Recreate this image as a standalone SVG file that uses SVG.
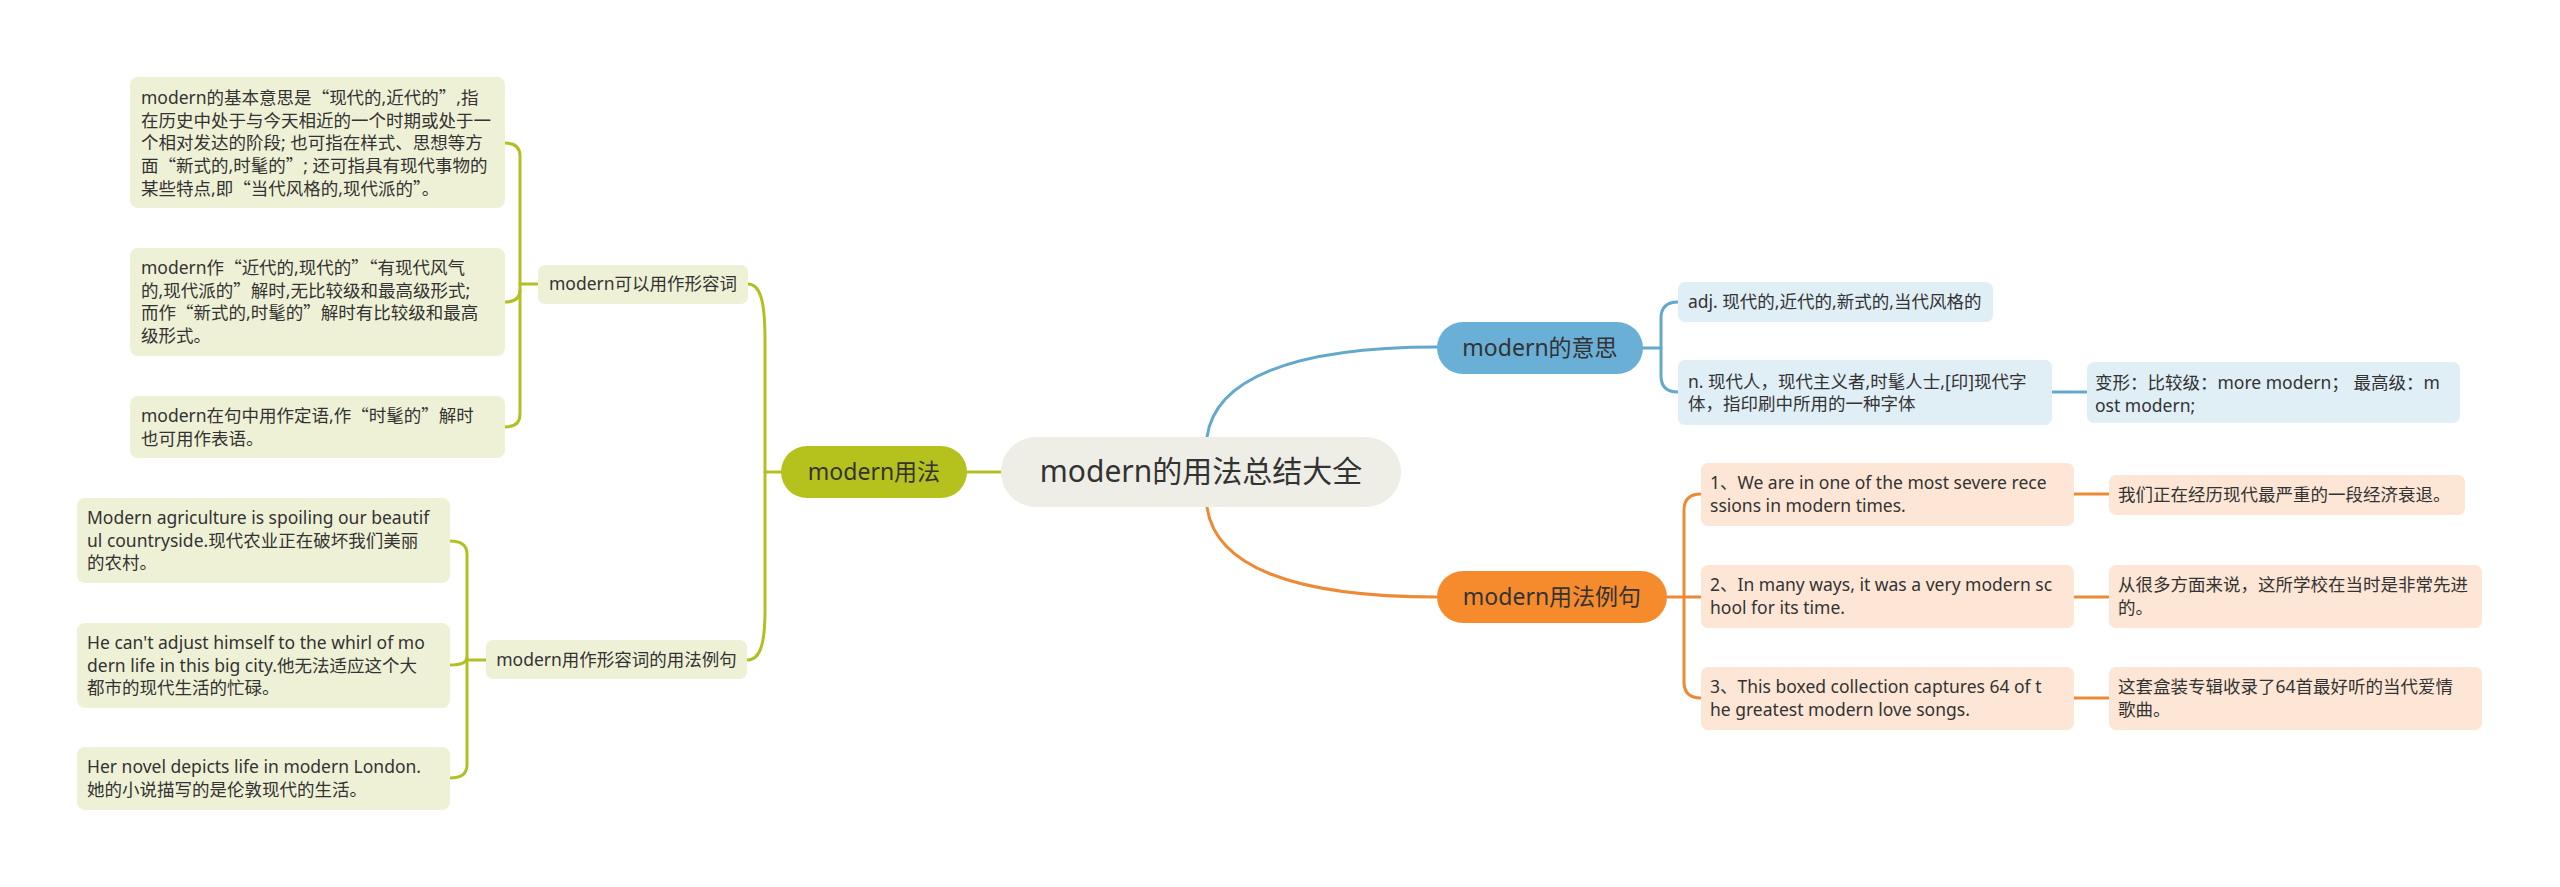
<svg xmlns="http://www.w3.org/2000/svg" width="2560" height="887" viewBox="0 0 2560 887">
<style>
text{font-family:"Noto Sans","Noto Sans CJK SC",sans-serif;fill:#333;}
.q{font-family:"Noto Sans CJK SC",sans-serif;}
.s{font-size:17.5px;}
.m{font-size:23px;text-anchor:middle;}
.c{font-size:30px;text-anchor:middle;}
.n2{font-size:17.5px;text-anchor:middle;}
.ol{fill:none;stroke:#b2c024;stroke-width:3;stroke-linecap:round;}
.bl{fill:none;stroke:#63a8cd;stroke-width:3;stroke-linecap:round;}
.or{fill:none;stroke:#ec8a35;stroke-width:3;stroke-linecap:round;}
.lo{fill:#eff1d6;}
.lb{fill:#e0eef6;}
.lr{fill:#fde6d5;}
</style>
<rect width="2560" height="887" fill="#ffffff"/>
<g id="connectors">
<path class="bl" d="M1207,437 C1215,380 1290,347 1437,347"/>
<path class="or" d="M1207,507 C1215,565 1290,597 1437,597"/>
<path class="ol" d="M967,472 H1001"/>
<path class="ol" d="M781,472 H765"/>
<path class="ol" d="M748,284 C760,284 765,300 765,340 V610 C765,645 760,660 747,660"/>
<path class="ol" d="M538,284 H520"/>
<path class="ol" d="M505,143 Q520,143 520,156 V414 Q520,427 505,427"/>
<path class="ol" d="M505,302 Q520,302 520,290"/>
<path class="ol" d="M486,660 H467"/>
<path class="ol" d="M450,541 Q467,541 467,554 V765 Q467,778 450,778"/>
<path class="ol" d="M450,665 Q467,665 467,657"/>
<path class="bl" d="M1643,348 H1661"/>
<path class="bl" d="M1678,302 Q1661,302 1661,318 V376 Q1661,392 1678,392"/>
<path class="bl" d="M2052,392 H2087"/>
<path class="or" d="M1667,597 H1701"/>
<path class="or" d="M1701,494 Q1684,494 1684,510 V682 Q1684,698 1701,698"/>
<path class="or" d="M2074,494 H2109"/>
<path class="or" d="M2074,597 H2109"/>
<path class="or" d="M2074,698 H2109"/>
</g>
<g id="central">
<rect x="1001" y="437" width="400" height="70" rx="35" fill="#eeeee6"/>
<text class="c" x="1201" y="482">modern的用法总结大全</text>
</g>
<g id="usage">
<rect x="781" y="446" width="186" height="52" rx="26" fill="#b5c21d"/>
<text class="m" x="874" y="480">modern用法</text>
</g>
<g id="adj-node">
<rect class="lo" x="538" y="265" width="210" height="39" rx="7"/>
<text class="n2" x="643" y="290">modern可以用作形容词</text>
</g>
<g id="leaf-l1">
<rect class="lo" x="130" y="77" width="375" height="131" rx="8"/>
<text class="s"><tspan x="141" y="104">modern的基本意思是<tspan class="q">“</tspan>现代的,近代的<tspan class="q">”</tspan>,指</tspan><tspan x="141" y="126.7">在历史中处于与今天相近的一个时期或处于一</tspan><tspan x="141" y="149.4">个相对发达的阶段; 也可指在样式、思想等方</tspan><tspan x="141" y="172.1">面<tspan class="q">“</tspan>新式的,时髦的<tspan class="q">”</tspan>; 还可指具有现代事物的</tspan><tspan x="141" y="194.8">某些特点,即<tspan class="q">“</tspan>当代风格的,现代派的<tspan class="q">”</tspan>。</tspan></text>
</g>
<g id="leaf-l2">
<rect class="lo" x="130" y="248" width="375" height="108" rx="8"/>
<text class="s"><tspan x="141" y="274">modern作<tspan class="q">“</tspan>近代的,现代的<tspan class="q">”“</tspan>有现代风气</tspan><tspan x="141" y="296.7">的,现代派的<tspan class="q">”</tspan>解时,无比较级和最高级形式;</tspan><tspan x="141" y="319.4">而作<tspan class="q">“</tspan>新式的,时髦的<tspan class="q">”</tspan>解时有比较级和最高</tspan><tspan x="141" y="342.1">级形式。</tspan></text>
</g>
<g id="leaf-l3">
<rect class="lo" x="130" y="396" width="375" height="62" rx="8"/>
<text class="s"><tspan x="141" y="422">modern在句中用作定语,作<tspan class="q">“</tspan>时髦的<tspan class="q">”</tspan>解时</tspan><tspan x="141" y="444.7">也可用作表语。</tspan></text>
</g>
<g id="example-node">
<rect class="lo" x="486" y="640" width="261" height="39" rx="7"/>
<text class="n2" x="616.5" y="666">modern用作形容词的用法例句</text>
</g>
<g id="leaf-e1">
<rect class="lo" x="77" y="498" width="373" height="85" rx="8"/>
<text class="s"><tspan x="87" y="524">Modern agriculture is spoiling our beautif</tspan><tspan x="87" y="546.7">ul countryside.现代农业正在破坏我们美丽</tspan><tspan x="87" y="569.4">的农村。</tspan></text>
</g>
<g id="leaf-e2">
<rect class="lo" x="77" y="623" width="373" height="85" rx="8"/>
<text class="s"><tspan x="87" y="649">He can't adjust himself to the whirl of mo</tspan><tspan x="87" y="671.7">dern life in this big city.他无法适应这个大</tspan><tspan x="87" y="694.4">都市的现代生活的忙碌。</tspan></text>
</g>
<g id="leaf-e3">
<rect class="lo" x="77" y="747" width="373" height="63" rx="8"/>
<text class="s"><tspan x="87" y="773">Her novel depicts life in modern London.</tspan><tspan x="87" y="795.7">她的小说描写的是伦敦现代的生活。</tspan></text>
</g>
<g id="meaning">
<rect x="1437" y="322" width="206" height="52" rx="26" fill="#6aafd6"/>
<text class="m" x="1540" y="356">modern的意思</text>
</g>
<g id="meaning-adj">
<rect class="lb" x="1678" y="282" width="315" height="40" rx="7"/>
<text class="s" x="1688" y="308">adj. 现代的,近代的,新式的,当代风格的</text>
</g>
<g id="meaning-n">
<rect class="lb" x="1678" y="360" width="374" height="65" rx="7"/>
<text class="s"><tspan x="1688" y="387.5">n. 现代人，现代主义者,时髦人士,[印]现代字</tspan><tspan x="1688" y="410.2">体，指印刷中所用的一种字体</tspan></text>
</g>
<g id="meaning-forms">
<rect class="lb" x="2087" y="362" width="373" height="61" rx="7"/>
<text class="s"><tspan x="2095" y="389">变形：比较级：more modern； 最高级：m</tspan><tspan x="2095" y="411.7">ost modern;</tspan></text>
</g>
<g id="sentences">
<rect x="1437" y="571" width="230" height="52" rx="26" fill="#f68b2e"/>
<text class="m" x="1552" y="605">modern用法例句</text>
</g>
<g id="s1">
<rect class="lr" x="1701" y="463" width="373" height="63" rx="7"/>
<text class="s"><tspan x="1710" y="489">1、We are in one of the most severe rece</tspan><tspan x="1710" y="511.7">ssions in modern times.</tspan></text>
</g>
<g id="t1">
<rect class="lr" x="2109" y="475" width="356" height="40" rx="7"/>
<text class="s" x="2118" y="501">我们正在经历现代最严重的一段经济衰退。</text>
</g>
<g id="s2">
<rect class="lr" x="1701" y="565" width="373" height="63" rx="7"/>
<text class="s"><tspan x="1710" y="591">2、In many ways, it was a very modern sc</tspan><tspan x="1710" y="613.7">hool for its time.</tspan></text>
</g>
<g id="t2">
<rect class="lr" x="2109" y="565" width="373" height="63" rx="7"/>
<text class="s"><tspan x="2118" y="591">从很多方面来说，这所学校在当时是非常先进</tspan><tspan x="2118" y="613.7">的。</tspan></text>
</g>
<g id="s3">
<rect class="lr" x="1701" y="667" width="373" height="63" rx="7"/>
<text class="s"><tspan x="1710" y="693">3、This boxed collection captures 64 of t</tspan><tspan x="1710" y="715.7">he greatest modern love songs.</tspan></text>
</g>
<g id="t3">
<rect class="lr" x="2109" y="667" width="373" height="63" rx="7"/>
<text class="s"><tspan x="2118" y="693">这套盒装专辑收录了64首最好听的当代爱情</tspan><tspan x="2118" y="715.7">歌曲。</tspan></text>
</g>
</svg>
